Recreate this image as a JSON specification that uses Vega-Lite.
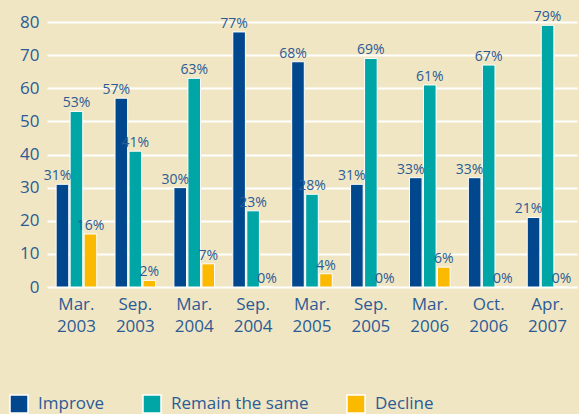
{
  "$schema": "https://vega.github.io/schema/vega-lite/v6.json",
  "width": 530,
  "height": 265,
  "autosize": "none",
  "padding": {"left": 47, "top": 22, "right": 2, "bottom": 127},
  "background": "#f0e6c3",
  "config": {
    "view": {"stroke": null},
    "font": "Open Sans",
    "axis": {"labelFont": "Open Sans", "labelColor": "#2b5b96"},
    "legend": {"labelFont": "Open Sans", "labelColor": "#2b5b96"}
  },
  "data": {
    "values": [
      {"period": "Mar. 2003", "series": "Improve", "value": 31},
      {"period": "Mar. 2003", "series": "Remain the same", "value": 53},
      {"period": "Mar. 2003", "series": "Decline", "value": 16},
      {"period": "Sep. 2003", "series": "Improve", "value": 57},
      {"period": "Sep. 2003", "series": "Remain the same", "value": 41},
      {"period": "Sep. 2003", "series": "Decline", "value": 2},
      {"period": "Mar. 2004", "series": "Improve", "value": 30},
      {"period": "Mar. 2004", "series": "Remain the same", "value": 63},
      {"period": "Mar. 2004", "series": "Decline", "value": 7},
      {"period": "Sep. 2004", "series": "Improve", "value": 77},
      {"period": "Sep. 2004", "series": "Remain the same", "value": 23},
      {"period": "Sep. 2004", "series": "Decline", "value": 0},
      {"period": "Mar. 2005", "series": "Improve", "value": 68},
      {"period": "Mar. 2005", "series": "Remain the same", "value": 28},
      {"period": "Mar. 2005", "series": "Decline", "value": 4},
      {"period": "Sep. 2005", "series": "Improve", "value": 31},
      {"period": "Sep. 2005", "series": "Remain the same", "value": 69},
      {"period": "Sep. 2005", "series": "Decline", "value": 0},
      {"period": "Mar. 2006", "series": "Improve", "value": 33},
      {"period": "Mar. 2006", "series": "Remain the same", "value": 61},
      {"period": "Mar. 2006", "series": "Decline", "value": 6},
      {"period": "Oct. 2006", "series": "Improve", "value": 33},
      {"period": "Oct. 2006", "series": "Remain the same", "value": 67},
      {"period": "Oct. 2006", "series": "Decline", "value": 0},
      {"period": "Apr. 2007", "series": "Improve", "value": 21},
      {"period": "Apr. 2007", "series": "Remain the same", "value": 79},
      {"period": "Apr. 2007", "series": "Decline", "value": 0}
    ]
  },
  "transform": [{"calculate": "datum.value + '%'", "as": "label"}],
  "encoding": {
    "x": {
      "field": "period",
      "type": "nominal",
      "sort": null,
      "scale": {"paddingInner": 0.31, "paddingOuter": 0.155},
      "axis": {
        "title": null,
        "labelAngle": 0,
        "labelExpr": "split(datum.label, ' ')",
        "labelFontSize": 17,
        "labelLineHeight": 22,
        "labelPadding": 9,
        "ticks": false,
        "domain": false,
        "labelBaseline": "top"
      }
    },
    "xOffset": {
      "field": "series",
      "type": "nominal",
      "sort": ["Improve", "Remain the same", "Decline"],
      "scale": {"paddingInner": 0.1}
    },
    "y": {
      "field": "value",
      "type": "quantitative",
      "scale": {"domain": [0, 80], "nice": false},
      "axis": {
        "title": null,
        "values": [0, 10, 20, 30, 40, 50, 60, 70, 80],
        "labelFontSize": 17,
        "labelPadding": 8,
        "ticks": false,
        "domain": false,
        "grid": true,
        "gridColor": "#ffffff",
        "gridWidth": 2,
        "gridOpacity": 1
      }
    }
  },
  "layer": [
    {
      "mark": {"type": "bar", "stroke": "#ffffff", "strokeWidth": 1},
      "encoding": {
        "color": {
          "field": "series",
          "type": "nominal",
          "sort": ["Improve", "Remain the same", "Decline"],
          "scale": {
            "domain": ["Improve", "Remain the same", "Decline"],
            "range": ["#00478d", "#00a5a5", "#fbb900"]
          },
          "legend": {
            "title": null,
            "orient": "none",
            "direction": "horizontal",
            "legendX": -38,
            "legendY": 372,
            "symbolType": "square",
            "symbolSize": 324,
            "symbolStrokeColor": "#ffffff",
            "symbolStrokeWidth": 1.5,
            "symbolOpacity": 1,
            "labelFontSize": 17,
            "labelOffset": 9,
            "columnPadding": 35
          }
        }
      }
    },
    {
      "transform": [{"filter": "datum.series == 'Improve'"}],
      "mark": {"type": "text", "baseline": "bottom", "dy": -1, "dx": -5, "fontSize": 14, "color": "#2b5b96"},
      "encoding": {"text": {"field": "label"}}
    },
    {
      "transform": [{"filter": "datum.series != 'Improve'"}],
      "mark": {"type": "text", "baseline": "bottom", "dy": -1, "fontSize": 14, "color": "#2b5b96"},
      "encoding": {"text": {"field": "label"}}
    }
  ]
}
